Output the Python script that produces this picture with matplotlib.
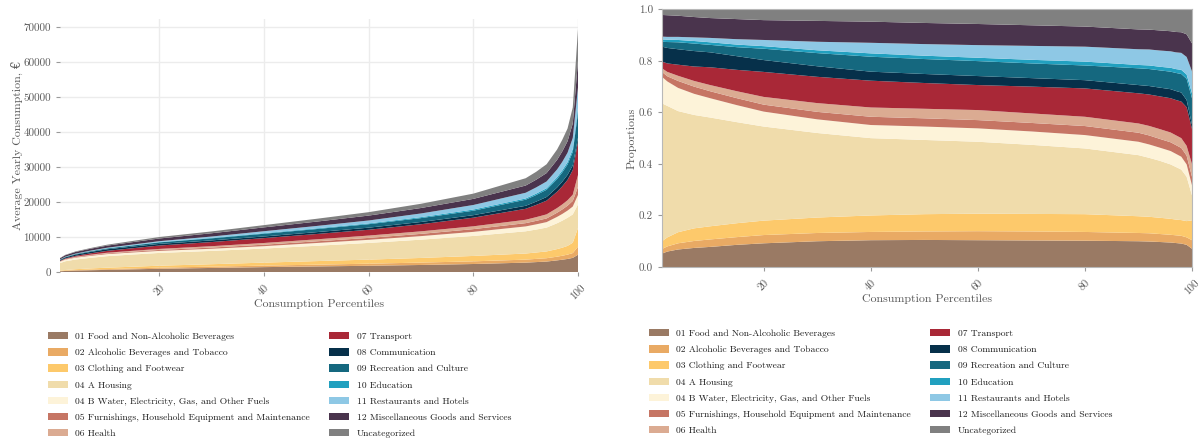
import numpy as np
import matplotlib
matplotlib.use("Agg")
import matplotlib.pyplot as plt

plt.rcParams["font.family"] = ["cmr10", "DejaVu Serif"]
plt.rcParams["axes.unicode_minus"] = False

# consumption percentiles where the budget shares were taken
percentiles = [1, 2, 4, 7, 10, 15, 20, 30, 40, 50, 60, 70, 80, 90, 92, 94, 96, 97, 98, 99, 100]

# average yearly consumption per percentile (EUR)
total_eur = [4000, 4900, 5900, 6900, 7800, 8900, 10000, 11600, 13400, 15200, 17100,
             19500, 22400, 26800, 28600, 30800, 35000, 37800, 41000, 47000, 69500]

# budget shares (%) per COICOP group
food = [5.2, 6.0, 6.8, 7.4, 7.8, 8.6, 9.2, 10.0, 10.4, 10.5, 10.4, 10.3, 10.2, 10.0, 9.9, 9.7, 9.5, 9.3, 9.1, 8.6, 7.1]
alcohol = [1.8, 2.0, 2.4, 2.7, 2.9, 3.0, 3.2, 3.2, 3.2, 3.3, 3.5, 3.5, 3.4, 3.2, 3.2, 3.1, 3.0, 3.0, 3.0, 2.9, 3.3]
clothing = [3.0, 3.5, 4.3, 4.9, 5.1, 5.4, 5.6, 6.0, 6.4, 6.7, 6.8, 6.8, 6.9, 6.5, 6.4, 6.3, 6.2, 6.1, 6.1, 6.3, 7.7]
housing_a = [53.5, 51.0, 47.0, 44.0, 42.2, 39.2, 36.5, 32.8, 30.0, 28.8, 27.9, 26.8, 25.5, 23.7, 22.9, 22.1, 21.1, 20.4, 19.6, 17.2, 9.7]
housing_b = [10.3, 9.5, 9.0, 8.2, 7.5, 6.6, 5.8, 5.3, 5.1, 5.2, 5.2, 5.2, 5.2, 5.2, 5.2, 5.1, 5.2, 5.1, 5.0, 4.8, 3.9]
furnishings = [1.9, 2.0, 2.7, 2.8, 2.7, 2.7, 2.7, 2.9, 3.2, 3.2, 3.2, 3.3, 3.5, 3.5, 3.5, 3.4, 3.4, 3.4, 3.4, 3.4, 3.3]
health = [1.4, 1.7, 2.0, 2.2, 2.4, 2.7, 3.0, 3.4, 3.6, 3.7, 3.9, 3.7, 3.6, 3.6, 3.7, 3.8, 3.8, 3.8, 3.8, 3.8, 4.9]
transport = [2.6, 3.3, 4.3, 5.6, 6.9, 8.3, 9.7, 10.2, 10.4, 10.0, 9.7, 10.4, 11.0, 11.7, 12.2, 12.7, 13.3, 13.7, 14.2, 15.0, 13.7]
communication = [5.8, 6.0, 6.0, 6.0, 5.8, 5.3, 4.6, 4.1, 3.5, 3.5, 3.5, 3.3, 3.2, 3.2, 3.3, 3.4, 3.5, 3.5, 3.5, 2.8, 1.6]
recreation = [1.9, 2.3, 2.7, 2.9, 2.9, 3.5, 4.4, 5.1, 5.8, 5.8, 5.8, 5.7, 5.7, 6.5, 6.6, 6.7, 6.8, 7.0, 7.2, 8.2, 10.3]
education = [0.9, 0.9, 0.9, 1.0, 1.0, 1.0, 1.0, 1.1, 1.3, 1.3, 1.3, 1.4, 1.5, 1.3, 1.4, 1.4, 1.5, 1.5, 1.6, 1.7, 1.9]
restaurants = [1.1, 1.1, 1.2, 1.4, 1.7, 2.1, 2.4, 3.3, 4.1, 4.5, 4.9, 5.4, 5.8, 6.1, 6.2, 6.3, 6.4, 6.5, 6.6, 6.8, 8.5]
misc = [8.4, 8.4, 8.2, 7.9, 7.7, 7.8, 7.7, 8.1, 8.2, 8.2, 8.2, 8.0, 7.8, 7.7, 7.7, 7.8, 7.8, 7.9, 8.0, 8.8, 10.9]
uncategorized = [2.2, 2.3, 2.5, 3.0, 3.4, 3.8, 4.2, 4.5, 4.8, 5.3, 5.7, 6.2, 6.7, 7.8, 7.9, 8.2, 8.5, 8.8, 8.9, 9.7, 13.2]

labels = [
    "01 Food and Non-Alcoholic Beverages",
    "02 Alcoholic Beverages and Tobacco",
    "03 Clothing and Footwear",
    "04 A Housing",
    "04 B Water, Electricity, Gas, and Other Fuels",
    "05 Furnishings, Household Equipment and Maintenance",
    "06 Health",
    "07 Transport",
    "08 Communication",
    "09 Recreation and Culture",
    "10 Education",
    "11 Restaurants and Hotels",
    "12 Miscellaneous Goods and Services",
    "Uncategorized",
]
colors = ["#9a7a64", "#e9aa64", "#fdc96b", "#f0dcab", "#fdf3d9", "#c67564", "#dbab92",
          "#a92837", "#06304a", "#15687f", "#21a0bf", "#8ec8e5", "#4a344d", "#808080"]

shares = np.array([food, alcohol, clothing, housing_a, housing_b, furnishings, health,
                   transport, communication, recreation, education, restaurants, misc,
                   uncategorized]) / 100.0
x = np.array(percentiles)
amounts = shares * np.array(total_eur)
props = amounts / amounts.sum(axis=0)

text_gray = "#5a5a5a"
label_size = 8.6
fig = plt.figure(figsize=(12.03, 4.44), dpi=100)

# absolute consumption
ax1 = fig.add_axes([60 / 1203, 1 - 272 / 444, 518 / 1203, 253 / 444])
ax1.stackplot(x, amounts, colors=colors, labels=labels, linewidth=0, zorder=2)
ax1.set_xlim(1, 100)
ax1.set_ylim(0, 72300)
ax1.set_yticks(np.arange(0, 70001, 10000))
ax1.set_xticks([20, 40, 60, 80, 100])
ax1.grid(True, color="#ececec", linewidth=1.0, zorder=0)
ax1.set_axisbelow(True)
for s in ax1.spines.values():
    s.set_visible(False)
ax1.tick_params(colors="#9a9a9a", labelcolor=text_gray, labelsize=8, length=3, width=0.8)
ax1.tick_params(axis="x", pad=5)
ax1.set_xlabel("Consumption Percentiles", color=text_gray, fontsize=label_size)
ax1.set_ylabel("Average Yearly Consumption, €", color=text_gray, fontsize=label_size)
ax1.xaxis.set_label_coords(0.5, -0.105)
ax1.yaxis.set_label_coords(-0.071, 0.5)
for lab in ax1.get_xticklabels():
    lab.set_rotation(45)

# shares of the budget
ax2 = fig.add_axes([662 / 1203, 1 - 267 / 444, 530 / 1203, 257.7 / 444])
ax2.stackplot(x, props, colors=colors, labels=labels, linewidth=0)
ax2.set_xlim(1, 100)
ax2.set_ylim(0, 1)
ax2.set_xticks([20, 40, 60, 80, 100])
ax2.set_yticks(np.arange(0, 1.01, 0.2))
ax2.set_yticklabels([f"{v:.1f}" for v in np.arange(0, 1.01, 0.2)])
for s in ax2.spines.values():
    s.set_color("#b8b8b8")
    s.set_linewidth(0.8)
ax2.tick_params(colors="#9a9a9a", labelcolor=text_gray, labelsize=8, length=3, width=0.8)
ax2.tick_params(axis="x", pad=5)
ax2.set_xlabel("Consumption Percentiles", color=text_gray, fontsize=label_size)
ax2.set_ylabel("Proportions", color=text_gray, fontsize=label_size)
ax2.xaxis.set_label_coords(0.5, -0.105)
ax2.yaxis.set_label_coords(-0.047, 0.5)
for lab in ax2.get_xticklabels():
    lab.set_rotation(45)

legend_kw = dict(ncol=2, frameon=False, fontsize=6.9, loc="upper left", borderaxespad=0,
                 borderpad=0, handlelength=2.1, handleheight=0.8, handletextpad=0.75,
                 columnspacing=2.0, labelspacing=0.75, labelcolor="#1e1e1e")
h1, l1 = ax1.get_legend_handles_labels()
fig.legend(h1, l1, bbox_to_anchor=(48 / 1203, 1 - 332 / 444), **legend_kw)
h2, l2 = ax2.get_legend_handles_labels()
fig.legend(h2, l2, bbox_to_anchor=(649 / 1203, 1 - 329 / 444), **legend_kw)

fig.savefig("out.png", dpi=100)
